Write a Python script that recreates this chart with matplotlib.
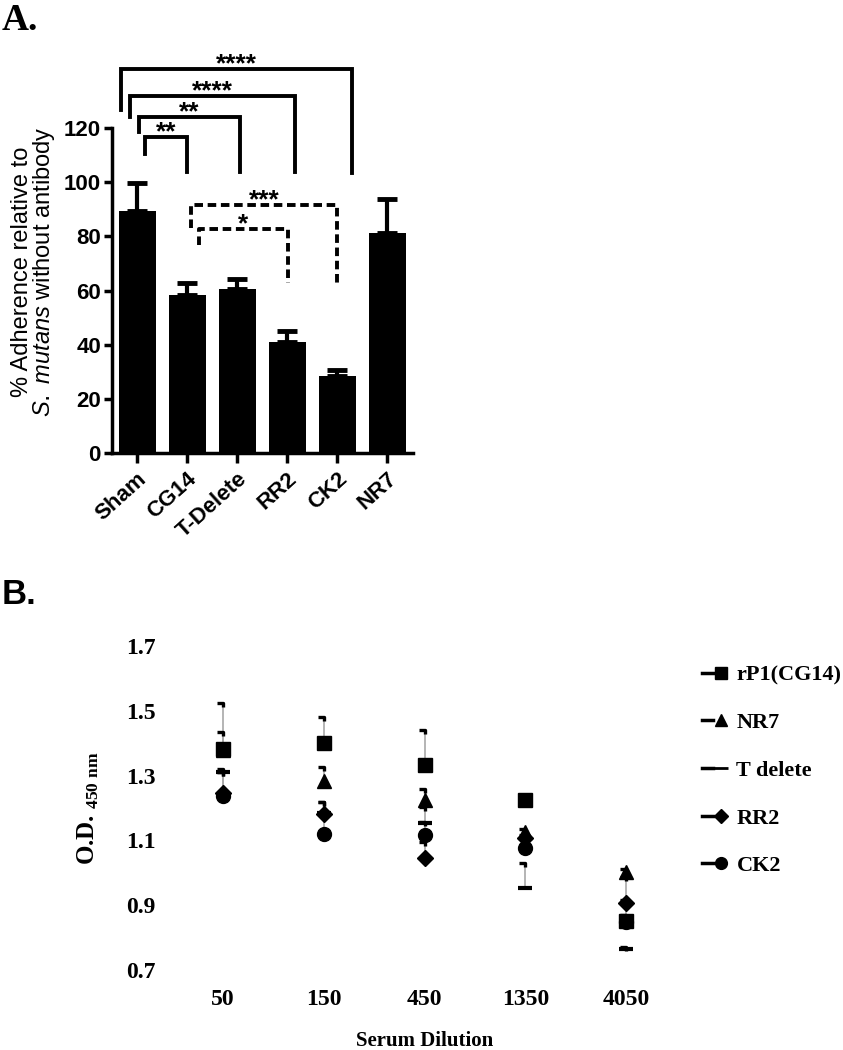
import matplotlib
matplotlib.use("Agg")
import matplotlib.pyplot as plt
import numpy as np
from matplotlib.lines import Line2D
from matplotlib.path import Path
from matplotlib.legend_handler import HandlerTuple

plt.rcParams['mathtext.fontset'] = 'custom'
plt.rcParams['mathtext.it'] = 'Liberation Sans:italic'
plt.rcParams['mathtext.bf'] = 'Liberation Serif:bold'

# ---- panel A data ----
groups = ["Sham", "CG14", "T-Delete", "RR2", "CK2", "NR7"]
adherence = [89.4, 58.3, 60.5, 41.0, 28.4, 81.2]
adherence_err = [10.3, 4.5, 3.7, 4.0, 2.2, 12.6]

# brackets: (x_left, x_right, y_top, y_left_end, y_right_end, stars, dashed)
brackets = [
    (-0.32, 4.30, 141.8, 126.6, 103.4, "****", False),
    (-0.14, 3.16, 131.8, 124.0, 103.7, "****", False),
    (0.04, 2.06, 124.0, 118.5, 103.7, "**", False),
    (0.16, 1.00, 116.7, 110.4, 103.7, "**", False),
    (1.08, 4.00, 91.6, 83.0, 62.8, "***", True),
    (1.24, 3.02, 82.7, 76.8, 62.8, "*", True),
]

# ---- panel B data ----
dilutions = ["50", "150", "450", "1350", "4050"]
series_names = ["rP1(CG14)", "NR7", "T delete", "RR2", "CK2"]
series_markers = ["s", "^", "_", "D", "o"]
od_cg14 = [1.382, 1.400, 1.333, 1.225, 0.850]
od_nr7 = [1.380, 1.283, 1.225, 1.125, 1.003]
od_tdel = [1.310, 1.184, 1.154, 0.953, 0.765]
od_rr2 = [1.245, 1.180, 1.045, 1.107, 0.907]
od_ck2 = [1.237, 1.120, 1.117, 1.077, 0.848]
err_cg14 = [0.142, 0.080, 0.107, 0.015, 0.020]
err_nr7 = [0.055, 0.044, 0.035, 0.010, 0.010]
err_tdel = [0.010, 0.036, 0.050, 0.077, 0.005]
err_rr2 = [0.065, 0.040, 0.050, 0.010, 0.010]
err_ck2 = [0.075, 0.060, 0.040, 0.010, 0.140]

sans = ['Liberation Sans', 'DejaVu Sans']
serif = ['Liberation Serif', 'DejaVu Serif']

fig = plt.figure(figsize=(8.43, 10.5), dpi=100)

# ================= panel A =================
axA = fig.add_axes([112 / 843, 1 - 453 / 1050, 301 / 843, 325 / 1050])
xa = np.arange(len(groups))
axA.bar(xa, adherence, width=0.74, color='black', zorder=2)
axA.errorbar(xa, adherence, yerr=[np.zeros(len(xa)), adherence_err], fmt='none',
             ecolor='black', elinewidth=3, capsize=7, capthick=3.5, zorder=1)
axA.set_xlim(-0.5, 5.52)
axA.set_ylim(0, 120)
axA.set_yticks(range(0, 121, 20))
axA.set_xticks(xa)
axA.set_xticklabels(groups, rotation=42, ha='right', rotation_mode='anchor',
                    family=sans, fontweight='bold', fontsize=16)
for lab in axA.get_yticklabels():
    lab.set_family(sans)
    lab.set_fontweight('bold')
    lab.set_fontsize(16)
for s in ['top', 'right']:
    axA.spines[s].set_visible(False)
for s in ['left', 'bottom']:
    axA.spines[s].set_linewidth(2.5)
axA.tick_params(axis='both', width=2.5, length=6, pad=2)
axA.tick_params(axis='x', length=7, pad=4)
axA.set_ylabel("% Adherence relative to\n$\\mathit{S.\\ mutans}$ without antibody",
               family=sans, fontsize=17, linespacing=0.9)
axA.yaxis.set_label_coords(-0.183, 0.557)

for xl, xr, yt, yl, yr, stars, dashed in brackets:
    ls = (0, (2.2, 1.2)) if dashed else '-'
    axA.plot([xl, xl, xr, xr], [yl, yt, yt, yr], color='black', lw=2.8,
             linestyle=ls, clip_on=False, solid_joinstyle='miter')
    axA.text((xl + xr) / 2, yt - 0.8, stars, ha='center', va='baseline',
             fontsize=19, fontweight='bold', family=sans)

fig.text(0.002, 0.997, "A.", ha='left', va='top', fontsize=27, fontweight='bold',
         family=serif)

# ================= panel B =================
axB = fig.add_axes([172.5 / 843, 1 - 970 / 1050, 504 / 843, 324 / 1050])
xb = np.arange(len(dilutions))
all_od = [od_cg14, od_nr7, od_tdel, od_rr2, od_ck2]
all_err = [err_cg14, err_nr7, err_tdel, err_rr2, err_ck2]
halfcap = Path([(-1.0, 0.0), (0.0, 0.0), (0.0, -0.7)],
               [Path.MOVETO, Path.LINETO, Path.LINETO])

for od, err in zip(all_od, all_err):
    od = np.array(od)
    err = np.array(err)
    axB.vlines(xb, od, od + err, color='#a8a8a8', lw=1.2, zorder=1)
    axB.plot(xb, od + err, linestyle='none', marker=halfcap, markersize=9,
             markeredgewidth=2.4, markeredgecolor='black', fillstyle='none', zorder=2)

handles = []
for od, mk, name in zip(all_od, series_markers, series_names):
    if mk == "_":
        axB.plot(xb, od, linestyle='none', marker=mk, markersize=10,
                 markeredgewidth=3, color='black', zorder=3)
        mh = Line2D([], [], linestyle='none', marker=mk, markersize=10,
                    markeredgewidth=2, color='black')
    else:
        size = 8 if mk == "D" else 10
        axB.plot(xb, od, linestyle='none', marker=mk, markersize=size,
                 color='black', zorder=3)
        mh = Line2D([], [], linestyle='none', marker=mk, markersize=size * 0.85,
                    color='black')
    dash = Line2D([], [], color='black', lw=2.5)
    handles.append((dash, mh))

axB.set_xlim(-0.5, 4.5)
axB.set_ylim(0.7, 1.7)
axB.set_xticks(xb)
axB.set_xticklabels(dilutions)
axB.set_yticks([0.7, 0.9, 1.1, 1.3, 1.5, 1.7])
axB.set_yticklabels(["0.7", "0.9", "1.1", "1.3", "1.5", "1.7"])
for lab in axB.get_xticklabels() + axB.get_yticklabels():
    lab.set_family(serif)
    lab.set_fontweight('bold')
    lab.set_fontsize(17)
for s in axB.spines.values():
    s.set_visible(False)
axB.tick_params(axis='y', length=0, pad=12)
axB.tick_params(axis='x', length=0, pad=14)
axB.set_xlabel("Serum Dilution", family=serif, fontweight='bold', fontsize=15)
axB.xaxis.set_label_coords(0.5, -0.188)
axB.set_ylabel("O.D. $_{\\mathbf{450\\ nm}}$", family=serif, fontweight='bold',
               fontsize=18, labelpad=18)

fig.legend(handles, series_names, handler_map={tuple: HandlerTuple(ndivide=None, pad=0.15)},
           loc='upper left', bbox_to_anchor=(702 / 843, 1 - 665 / 1050),
           frameon=False, borderaxespad=0, borderpad=0, handlelength=1.1,
           handletextpad=0.45, labelspacing=1.22,
           prop={'family': serif, 'weight': 'bold', 'size': 16})

fig.text(0.002, 1 - 578 / 1050, "B.", ha='left', va='top', fontsize=25, fontweight='bold',
         family=sans)

fig.savefig("out.png", dpi=100)
